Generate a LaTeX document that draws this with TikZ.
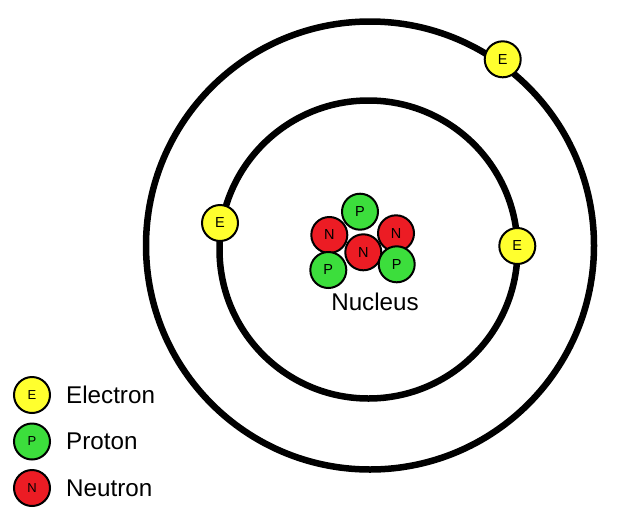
\documentclass[tikz,border=0pt]{standalone}
\usepackage{fontspec}
\setmainfont{Liberation Sans}
\definecolor{eyel}{HTML}{FFFF2E}
\definecolor{pgrn}{HTML}{3CDE3C}
\definecolor{nred}{HTML}{EC1C24}
\begin{document}
\begin{tikzpicture}[x=1pt,y=-1pt,
  orbit/.style={draw=black,line width=6.5pt},
  particle/.style={circle,draw=black,line width=2pt,minimum size=36pt,inner sep=0pt,
    font=\fontsize{14.5}{16}\selectfont},
  electron/.style={particle,fill=eyel},
  proton/.style={particle,fill=pgrn},
  neutron/.style={particle,fill=nred},
  legendp/.style={font=\fontsize{13}{14}\selectfont},
  bigtext/.style={font=\fontsize{24.2}{28}\selectfont,inner sep=0pt}]
\useasboundingbox (0,0) rectangle (617,514);
\draw[orbit] (370,245.5) circle (224);
\draw[orbit] (368.5,249.5) circle (149);
% electrons
\node[electron] (e1) at (502.7,59.3) {E};
\node[electron] (e2) at (220,223) {E};
\node[electron] (e3) at (517.3,246) {E};
% nucleus
\node[proton]  (p1) at (360,211.7) {P};
\node[neutron] (n1) at (329.3,235) {N};
\node[neutron] (n3) at (396,233.3) {N};
\node[neutron] (n2) at (363.3,252.3) {N};
\node[proton]  (p2) at (328.3,270) {P};
\node[proton]  (p3) at (396.7,264.3) {P};
\node[bigtext] (nuc) at (375,302) {Nucleus};
% legend
\node[electron,legendp] (le) at (32,395) {E};
\node[proton,legendp]   (lp) at (32,441.5) {P};
\node[neutron,legendp]  (ln) at (32,488) {N};
\node[bigtext,anchor=west] (te) at (66,395) {Electron};
\node[bigtext,anchor=west] (tp) at (66,441.5) {Proton};
\node[bigtext,anchor=west] (tn) at (66,488) {Neutron};
\end{tikzpicture}
\end{document}
